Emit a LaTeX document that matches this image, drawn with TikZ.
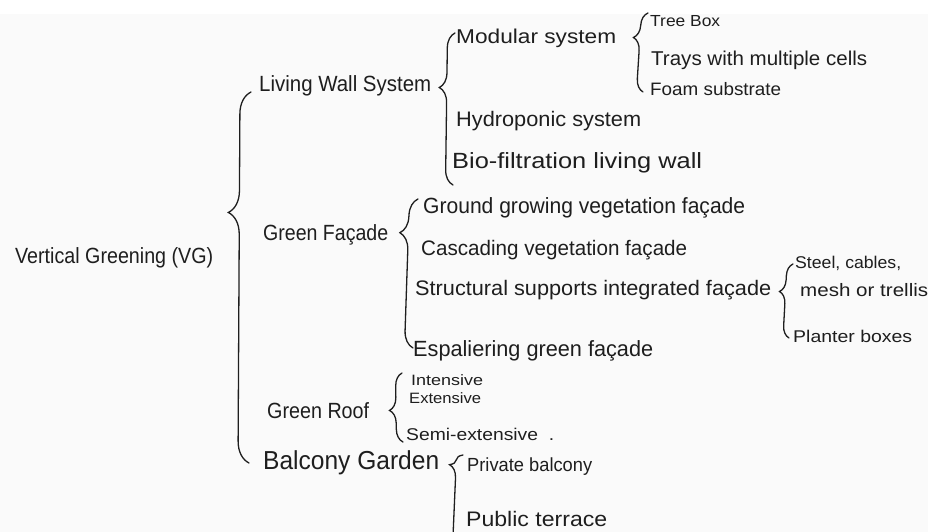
\documentclass[tikz,border=0pt]{standalone}
\usepackage{fontspec}
\setmainfont{Liberation Sans}
\usetikzlibrary{decorations.pathreplacing}
\definecolor{ink}{HTML}{1E1E1E}
\definecolor{paper}{HTML}{FAFAFA}
% set text at size #1, then stretch/squeeze horizontally to width #2
\newcommand\fitw[3]{{\fontsize{#1}{#1}\selectfont\resizebox{#2pt}{\height}{#3}}}
\begin{document}
\begin{tikzpicture}[x=1pt,y=-1pt,
  lab/.style={anchor=west,inner sep=0pt,text=ink},
  hbrace/.style n args={2}{draw=ink,line width=1.3pt,line cap=round,decorate,
    decoration={brace,amplitude=#1,aspect=#2}},
]
\fill[white] (0,0) rectangle (928,532);
\fill[paper] (0,14) rectangle (928,532);
\clip (0,0) rectangle (928,532);
\useasboundingbox (0,0) rectangle (928,532);

% level 0
\node[lab] (vg) at (15,258) {\fitw{22}{198}{Vertical Greening (VG)}};

% level 1
\node[lab] (lws) at (259,86) {\fitw{22}{172}{Living Wall System}};
\node[lab] (gf) at (263,235) {\fitw{22}{125}{Green Façade}};
\node[lab] (roof) at (267,411) {\fitw{22}{102}{Green Roof}};
\node[lab] (bg) at (263,463) {\fitw{26}{176}{Balcony Garden}};

% living wall children
\node[lab] (mod) at (456,38) {\fitw{20}{160}{Modular system}};
\node[lab] (hydro) at (456,121) {\fitw{21}{185}{Hydroponic system}};
\node[lab] (bio) at (452,163) {\fitw{22}{250}{Bio-filtration living wall}};

% modular children
\node[lab] (tree) at (650,21) {\fitw{16}{70}{Tree Box}};
\node[lab] (trays) at (651,60) {\fitw{20}{216}{Trays with multiple cells}};
\node[lab] (foam) at (650,89) {\fitw{18}{131}{Foam substrate}};

% green facade children
\node[lab] (ground) at (423,208) {\fitw{22}{322}{Ground growing vegetation façade}};
\node[lab] (casc) at (421,250) {\fitw{21}{266}{Cascading vegetation façade}};
\node[lab] (struct) at (415,290) {\fitw{21}{356}{Structural supports integrated façade}};
\node[lab] (espal) at (413,351) {\fitw{22}{240}{Espaliering green façade}};

% structural children
\node[lab] (steel) at (795,263) {\fitw{17}{106}{Steel, cables,}};
\node[lab] (mesh) at (800,290) {\fitw{18}{128}{mesh or trellis}};
\node[lab] (planter) at (793,336) {\fitw{17}{119}{Planter boxes}};

% green roof children
\node[lab] (int) at (411,380) {\fitw{15}{72}{Intensive}};
\node[lab] (ext) at (409,398) {\fitw{15}{72}{Extensive}};
\node[lab] (semi) at (406,434) {\fitw{17}{148}{Semi-extensive\ \ .}};

% balcony children
\node[lab] (priv) at (467,467) {\fitw{19}{125}{Private balcony}};
\node[lab] (pub) at (466,519) {\fitw{21}{141}{Public terrace}};

% braces (drawn from bottom end to top end, tip points left)
\coordinate (vgB) at (249,463);
\coordinate (vgT) at (251,92);
\draw[hbrace={22pt}{0.675}] (vgB) -- (vgT);

\coordinate (lwsB) at (453,185);
\coordinate (lwsT) at (455,33);
\draw[hbrace={15pt}{0.64}] (lwsB) -- (lwsT);

\coordinate (modB) at (643,92);
\coordinate (modT) at (648,13);
\draw[hbrace={13pt}{0.68}] (modB) -- (modT);

\coordinate (gfB) at (413,348);
\coordinate (gfT) at (418,199);
\draw[hbrace={17pt}{0.77}] (gfB) -- (gfT);

\coordinate (stB) at (789,338);
\coordinate (stT) at (793,264);
\draw[hbrace={12pt}{0.62}] (stB) -- (stT);

\coordinate (rfB) at (403,442);
\coordinate (rfT) at (402,373);
\draw[hbrace={13pt}{0.46}] (rfB) -- (rfT);

\coordinate (bgB) at (459,548);
\coordinate (bgT) at (463,455);
\draw[hbrace={13pt}{0.89}] (bgB) -- (bgT);
\end{tikzpicture}
\end{document}
